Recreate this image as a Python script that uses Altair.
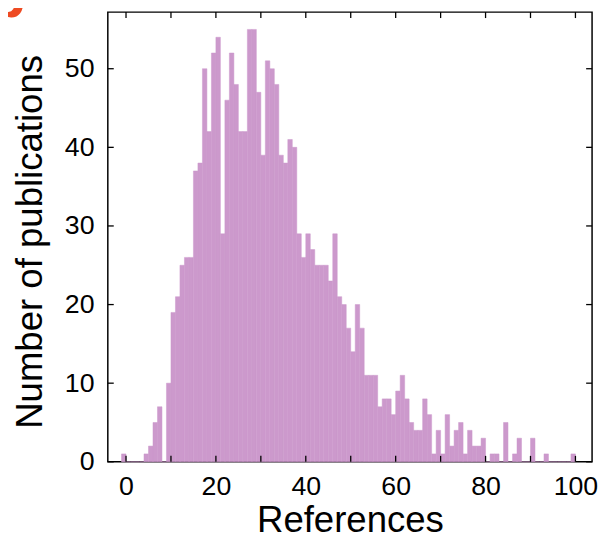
import altair as alt
import pandas as pd

# Histogram bins: each bar spans [bin_left, bin_left + 1]
bin_left = list(range(-1, 100))
counts = [1, 0, 0, 0, 0, 1, 2, 5, 7, 0,
          10, 19, 21, 25, 26, 26, 37, 38, 50, 42,
          52, 54, 29, 46, 52, 48, 42, 42, 55, 55,
          47, 39, 51, 50, 48, 39, 38, 41, 40, 29,
          26, 29, 27, 25, 25, 25, 23, 29, 21, 20,
          17, 14, 20, 17, 11, 11, 11, 7, 8, 8,
          6, 9, 11, 8, 5, 4, 4, 8, 6, 1,
          4, 1, 6, 2, 4, 5, 1, 4, 2, 2,
          3, 0, 1, 1, 0, 5, 0, 1, 3, 0,
          0, 3, 0, 0, 1, 0, 0, 0, 0, 0, 1]

x_ticks = [0, 10, 20, 30, 40, 50, 60, 70, 80, 90, 100]
x_labels = [0, 20, 40, 60, 80, 100]
y_ticks = [0, 10, 20, 30, 40, 50]
panel_label = ["b"]

W, H = 490, 455
FONT = "Liberation Sans"
BAR = "#cc99cc"

df = pd.DataFrame({"s": bin_left, "e": [b + 1 for b in bin_left], "n": counts})
xs = alt.Scale(domain=[-4.05, 103.7], nice=False, zero=False)
ys = alt.Scale(domain=[0, 57.2], nice=False, zero=False)

x_axis = alt.Axis(
    values=x_labels, ticks=False, tickSize=0, domain=False, grid=False,
    labelFontSize=27, labelFont=FONT, labelColor="black", labelPadding=12,
    labelFlush=False, title="References", titleFont=FONT, titleFontSize=37,
    titleFontWeight="normal", titleColor="black", titleX=W / 2, titleY=71,
    titleBaseline="alphabetic", titleAlign="center")
y_axis = alt.Axis(
    values=y_ticks, ticks=False, tickSize=0, domain=False, grid=False,
    labelFontSize=27, labelFont=FONT, labelColor="black", labelPadding=14,
    labelFlush=False, title="Number of publications", titleFont=FONT,
    titleFontSize=37, titleFontWeight="normal", titleColor="black",
    titleAngle=270, titleX=-67, titleY=232, titleBaseline="alphabetic",
    titleAlign="center")

bars = alt.Chart(df).mark_rect(color=BAR, stroke=BAR, strokeWidth=0.5).encode(
    x=alt.X("s:Q", scale=xs, axis=x_axis),
    x2="e:Q",
    y=alt.Y("n:Q", scale=ys, axis=y_axis),
    y2=alt.datum(0),
)

tx = pd.DataFrame({"v": x_ticks})
ty = pd.DataFrame({"v": y_ticks})
TL = 6
tick_style = dict(color="black", strokeWidth=1.3)

bottom = alt.Chart(tx).mark_rule(**tick_style).encode(
    x=alt.X("v:Q", scale=xs, axis=x_axis), y=alt.value(H), y2=alt.value(H - TL))
top = alt.Chart(tx).mark_rule(**tick_style).encode(
    x=alt.X("v:Q", scale=xs, axis=x_axis), y=alt.value(0), y2=alt.value(TL))
left = alt.Chart(ty).mark_rule(**tick_style).encode(
    y=alt.Y("v:Q", scale=ys, axis=y_axis), x=alt.value(0), x2=alt.value(TL))
right = alt.Chart(ty).mark_rule(**tick_style).encode(
    y=alt.Y("v:Q", scale=ys, axis=y_axis), x=alt.value(W), x2=alt.value(W - TL))

label = alt.Chart(pd.DataFrame({"t": panel_label})).mark_text(
    font=FONT, fontSize=60, fontWeight="bold", color="#ee4a22",
    align="right", baseline="alphabetic").encode(
    text="t:N", x=alt.value(-83), y=alt.value(5))

chart = alt.layer(bars, bottom, top, left, right, label).properties(
    width=W, height=H,
    autosize=alt.AutoSizeParams(type="none"),
    padding={"left": 101, "top": 1, "right": 6, "bottom": 79},
    background="white",
).configure_view(stroke="black", strokeWidth=1.5)

chart.save("out.html", embed_options={"renderer": "svg", "actions": False})
